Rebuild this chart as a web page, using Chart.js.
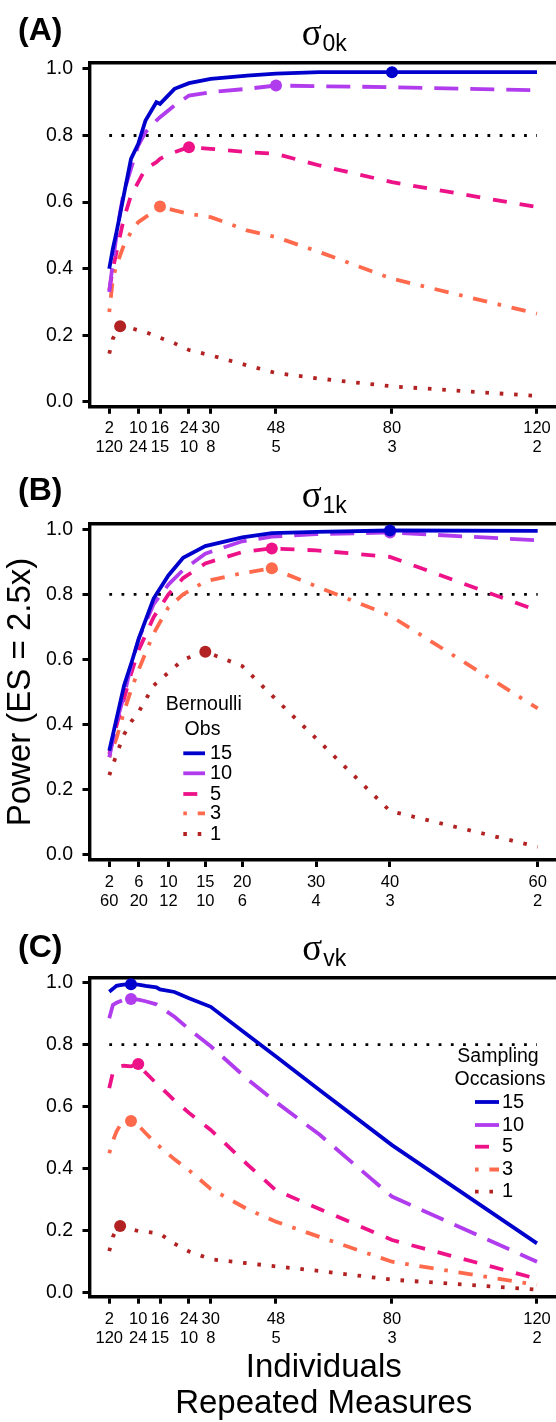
<!DOCTYPE html>
<html>
<head>
<meta charset="utf-8">
<script src="https://cdn.jsdelivr.net/npm/chart.js@4.4.1/dist/chart.umd.min.js"></script>
<style>
html, body { margin: 0; padding: 0; background: #fff; overflow: hidden; }
#page { position: relative; width: 556px; height: 1422px; overflow: hidden; }
#page canvas { position: absolute; left: 0; }
</style>
</head>
<body>
<div id="page">
	<canvas id="cA" width="562" height="460" style="top:0px"></canvas>
	<canvas id="cB" width="562" height="460" style="top:460px"></canvas>
	<canvas id="cC" width="562" height="502" style="top:920px"></canvas>
</div>
<script>
// x positions (number of individuals)
const xAC = [2, 3, 4, 5, 6, 8, 10, 12, 15, 16, 20, 24, 30, 40, 48, 60, 80, 120];
const xB = [2, 3, 4, 5, 6, 8, 10, 12, 15, 20, 24, 30, 40, 60];

// tick labels: individuals over repeated measures
const tickIndAC = [2, 10, 16, 24, 30, 48, 80, 120];
const tickRepAC = [120, 24, 15, 10, 8, 5, 3, 2];
const tickIndB = [2, 6, 10, 15, 20, 30, 40, 60];
const tickRepB = [60, 20, 12, 10, 6, 4, 3, 2];
const yTicks = [0, 0.2, 0.4, 0.6, 0.8, 1.0];
const groups = ['15', '10', '5', '3', '1'];
const refPower = 0.8;

// (A) sigma 0k
const a15 = [0.40, 0.46, 0.51, 0.565, 0.62, 0.73, 0.775, 0.845, 0.90, 0.895, 0.94, 0.957, 0.97, 0.98, 0.986, 0.99, 0.99, 0.99];
const a10 = [0.33, 0.42, 0.50, 0.57, 0.63, 0.70, 0.77, 0.81, 0.845, 0.855, 0.89, 0.92, 0.93, 0.94, 0.95, 0.948, 0.945, 0.936];
const a5 = [0.335, 0.40, 0.45, 0.50, 0.55, 0.62, 0.66, 0.70, 0.72, 0.73, 0.75, 0.765, 0.76, 0.75, 0.745, 0.71, 0.66, 0.585];
const a3 = [0.27, 0.37, 0.41, 0.44, 0.47, 0.51, 0.54, 0.555, 0.575, 0.587, 0.575, 0.565, 0.555, 0.515, 0.495, 0.45, 0.37, 0.265];
const a1 = [0.145, 0.19, 0.21, 0.227, 0.225, 0.222, 0.215, 0.21, 0.197, 0.193, 0.176, 0.156, 0.14, 0.11, 0.087, 0.07, 0.047, 0.018];
const peaksA = [80, 48, 24, 16, 5];

// (B) sigma 1k
const b15 = [0.32, 0.42, 0.52, 0.59, 0.665, 0.787, 0.858, 0.912, 0.948, 0.975, 0.988, 0.992, 0.996, 0.995];
const b10 = [0.30, 0.41, 0.49, 0.585, 0.665, 0.77, 0.83, 0.875, 0.925, 0.963, 0.977, 0.985, 0.99, 0.966];
const b5 = [0.31, 0.40, 0.48, 0.56, 0.63, 0.73, 0.80, 0.85, 0.895, 0.93, 0.941, 0.935, 0.915, 0.75];
const b3 = [0.30, 0.36, 0.44, 0.51, 0.57, 0.68, 0.76, 0.80, 0.84, 0.865, 0.88, 0.825, 0.735, 0.45];
const b1 = [0.245, 0.31, 0.37, 0.41, 0.44, 0.52, 0.56, 0.60, 0.624, 0.58, 0.49, 0.358, 0.135, 0.025];
const peaksB = [40, 40, 24, 24, 15];

// (C) sigma vk
const c15 = [0.971, 0.98, 0.99, 0.992, 0.994, 0.995, 0.994, 0.99, 0.985, 0.978, 0.97, 0.95, 0.922, 0.833, 0.762, 0.654, 0.476, 0.159];
const c10 = [0.885, 0.928, 0.935, 0.94, 0.945, 0.947, 0.945, 0.94, 0.93, 0.922, 0.89, 0.85, 0.795, 0.69, 0.615, 0.51, 0.31, 0.10];
const c5 = [0.66, 0.71, 0.725, 0.73, 0.732, 0.73, 0.738, 0.71, 0.675, 0.665, 0.62, 0.58, 0.525, 0.415, 0.33, 0.27, 0.17, 0.045];
const c3 = [0.45, 0.49, 0.52, 0.54, 0.55, 0.554, 0.54, 0.515, 0.48, 0.47, 0.43, 0.395, 0.335, 0.27, 0.229, 0.18, 0.10, 0.025];
const c1 = [0.134, 0.18, 0.205, 0.215, 0.21, 0.205, 0.199, 0.197, 0.192, 0.19, 0.158, 0.133, 0.108, 0.095, 0.085, 0.07, 0.042, 0.01];
const peaksC = [8, 8, 10, 8, 5];

const colors = ['#0000CD', '#B03CEE', '#EE1289', '#FF6A4D', '#B22222'];
const dashes = [[], [24, 12], [14, 13], [3.6, 10.8, 14.4, 10.8], [3.6, 10.8]];
const FONT = '"Liberation Sans", Arial, sans-serif';

Chart.defaults.font.family = FONT;
Chart.defaults.color = '#000';

// legend drawn inside the plot with the datasets' own line styles
const keyLegend = {
	id: 'keyLegend',
	afterDatasetsDraw(chart, args, o) {
		if (!o.rows) return;
		const ctx = chart.ctx;
		ctx.save();
		ctx.fillStyle = '#000';
		ctx.textBaseline = 'middle';
		ctx.font = '19.5px ' + FONT;
		ctx.textAlign = 'center';
		o.title.forEach((t, i) => ctx.fillText(t, o.titleX[i], o.titleY[i]));
		ctx.font = '20px ' + FONT;
		ctx.textAlign = 'left';
		chart.data.datasets.forEach((ds, i) => {
			if (i >= groups.length) return;
			const y = o.rows[i];
			ctx.strokeStyle = ds.borderColor;
			ctx.lineWidth = ds.borderWidth;
			ctx.setLineDash(ds.borderDash);
			ctx.beginPath();
			ctx.moveTo(o.x1, y);
			ctx.lineTo(o.x2, y);
			ctx.stroke();
			ctx.setLineDash([]);
			ctx.fillText(ds.label, o.labelX, y);
		});
		ctx.restore();
	}
};

// panel letter and sigma title
const panelText = {
	id: 'panelText',
	afterDraw(chart, args, o) {
		if (!o.letter) return;
		const ctx = chart.ctx;
		const a = chart.chartArea;
		ctx.save();
		ctx.fillStyle = '#000';
		ctx.textBaseline = 'alphabetic';
		ctx.textAlign = 'left';
		ctx.font = 'bold 32px ' + FONT;
		ctx.fillText(o.letter, 18, o.letterY);
		ctx.font = '37px "Liberation Serif", serif';
		const w1 = ctx.measureText('σ').width;
		ctx.font = '23px ' + FONT;
		const w2 = ctx.measureText(o.sub).width;
		const x = (a.left + a.right) / 2 - (w1 + w2) / 2;
		const by = a.top - 17.5;
		ctx.font = '37px "Liberation Serif", serif';
		ctx.fillText('σ', x, by);
		ctx.font = '23px ' + FONT;
		ctx.fillText(o.sub, x + w1 + 1, by + 6);
		ctx.restore();
	}
};

function makePanel(id, p) {
	const datasets = p.series.map((vals, i) => ({
		label: groups[i],
		data: vals.map((v, j) => ({x: p.xs[j], y: v})),
		borderColor: colors[i],
		backgroundColor: colors[i],
		borderWidth: 3.8,
		borderDash: dashes[i],
		pointRadius: (ctx) => p.xs[ctx.dataIndex] === p.peaks[i] ? 6 : 0,
		pointHoverRadius: 0,
		pointBorderWidth: 0,
		tension: 0,
		fill: false
	}));
	// 80% power reference line
	datasets.push({
		label: 'ref',
		data: [{x: p.xs[0], y: refPower}, {x: p.xs[p.xs.length - 1], y: refPower}],
		borderColor: '#000',
		borderWidth: 2.8,
		borderDash: [2.8, 9.4],
		pointRadius: 0,
		fill: false
	});

	const tickGrid = {drawOnChartArea: false, drawTicks: true, tickLength: 7, tickWidth: 3, tickColor: '#000'};
	const axisBorder = {display: true, color: '#000', width: 3.4};

	return new Chart(document.getElementById(id), {
		type: 'line',
		data: {datasets: datasets},
		plugins: [keyLegend, panelText],
		options: {
			responsive: false,
			animation: false,
			devicePixelRatio: 1,
			events: [],
			layout: {padding: {left: 0, right: 4, top: p.top, bottom: 0}},
			plugins: {
				legend: {display: false},
				tooltip: {enabled: false},
				keyLegend: p.legend || {},
				panelText: p.text
			},
			scales: {
				x: {
					type: 'linear',
					position: 'bottom',
					min: p.xMin,
					max: p.xMax,
					afterBuildTicks: (s) => { s.ticks = p.tickInd.map(v => ({value: v})); },
					afterFit: (s) => { s.height = p.xAxisH; },
					grid: tickGrid,
					border: axisBorder,
					ticks: {
						color: '#000',
						font: {size: 16.5, lineHeight: 1.13},
						padding: p.xPad,
						maxRotation: 0,
						autoSkip: false,
						callback: (v) => {
							const k = p.tickInd.indexOf(v);
							return k < 0 ? '' : [String(p.tickInd[k]), String(p.tickRep[k])];
						}
					},
					title: p.xTitle || {display: false}
				},
				y: {
					type: 'linear',
					position: 'left',
					min: p.yMin,
					max: p.yMax,
					afterBuildTicks: (s) => { s.ticks = yTicks.map(v => ({value: v})); },
					afterFit: (s) => { s.width = 89.5; },
					grid: tickGrid,
					border: axisBorder,
					ticks: {color: '#000', font: {size: 19.5}, padding: 9.5, callback: (v) => v.toFixed(1)},
					title: p.yTitle || {display: false}
				},
				top: {
					type: 'linear',
					position: 'top',
					min: 0,
					max: 1,
					afterFit: (s) => { s.height = 0; },
					grid: {display: true, drawOnChartArea: false, drawTicks: false},
					border: axisBorder,
					ticks: {display: false}
				}
			}
		}
	});
}

makePanel('cA', {
	xs: xAC, series: [a15, a10, a5, a3, a1], peaks: peaksA,
	xMin: -3.45, xMax: 125.8, yMin: -0.0145, yMax: 1.0185,
	tickInd: tickIndAC, tickRep: tickRepAC,
	top: 62.7, xAxisH: 460 - 406.8, xPad: 5.6,
	text: {letter: '(A)', letterY: 39.5, sub: '0k'}
});

makePanel('cB', {
	xs: xB, series: [b15, b10, b5, b3, b1], peaks: peaksB,
	xMin: -0.68, xMax: 62.75, yMin: -0.0154, yMax: 1.016,
	tickInd: tickIndB, tickRep: tickRepB,
	top: 64, xAxisH: 60, xPad: 6.3,
	text: {letter: '(B)', letterY: 40, sub: '1k'},
	yTitle: {display: true, text: 'Power (ES = 2.5x)', font: {size: 33, lineHeight: 1.2}, padding: {top: 1.2, bottom: 0}},
	legend: {
		title: ['Bernoulli', 'Obs'], titleX: [203.8, 202.5], titleY: [245, 269.3],
		rows: [293.3, 313.3, 334, 353.3, 374], x1: 183.3, x2: 205, labelX: 210
	}
});

makePanel('cC', {
	xs: xAC, series: [c15, c10, c5, c3, c1], peaks: peaksC,
	xMin: -3.45, xMax: 125.8, yMin: -0.0129, yMax: 1.016,
	tickInd: tickIndAC, tickRep: tickRepAC,
	top: 57.7, xAxisH: 502 - 376.7, xPad: 6.9,
	text: {letter: '(C)', letterY: 37, sub: 'vk'},
	xTitle: {display: true, text: ['Individuals', 'Repeated Measures'], font: {size: 33, lineHeight: 1.08}, padding: {top: 0, bottom: 0.6}},
	legend: {
		title: ['Sampling', 'Occasions'], titleX: [498, 500], titleY: [136.7, 160],
		rows: [182, 205, 226.7, 249.5, 271.7], x1: 475, x2: 499, labelX: 502
	}
});
</script>
</body>
</html>
